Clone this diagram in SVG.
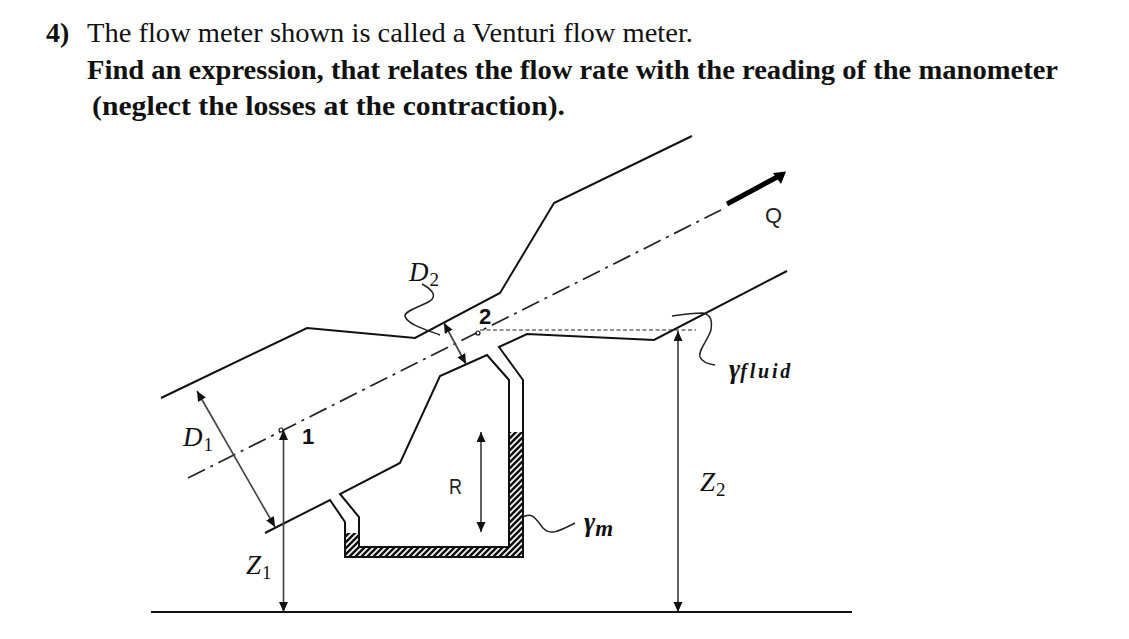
<svg xmlns="http://www.w3.org/2000/svg" width="1129" height="639" viewBox="0 0 1129 639">
<style>
.h{font-family:"Liberation Serif",serif;font-size:28px;fill:#111}
.b{font-weight:bold}
.m{font-family:"Liberation Serif",serif;font-style:italic;font-size:27px;fill:#111}
.s{font-size:19px;font-style:normal}
.g{font-family:"Liberation Sans",sans-serif;font-size:22px;fill:#222}
.n{font-family:"Liberation Sans",sans-serif;font-weight:bold;font-size:22px;fill:#111}
.p{fill:none;stroke:#111;stroke-width:2}
.t{fill:none;stroke:#222;stroke-width:1.5}
.a{fill:none;stroke:#444;stroke-width:1.7;marker-start:url(#ah);marker-end:url(#ah)}
</style>
<defs>
<marker id="ah" markerWidth="11" markerHeight="10" refX="10" refY="4.500" orient="auto-start-reverse" markerUnits="userSpaceOnUse"><path d="M0 0L10 4.500L0 9Z" fill="#111"/></marker>
<pattern id="hatch" width="6" height="6" patternUnits="userSpaceOnUse"><rect width="6" height="6" fill="#fff"/><path d="M-1 7L7 -1M-1 1L1 -1M5 7L7 5" stroke="#111" stroke-width="2.600"/></pattern>
</defs>
<g id="title">
<text class="h b" x="46" y="42">4)</text>
<text class="h" x="87" y="42" textLength="606" lengthAdjust="spacingAndGlyphs">The flow meter shown is called a Venturi flow meter.</text>
<text class="h b" x="87" y="79" textLength="971" lengthAdjust="spacingAndGlyphs">Find an expression, that relates the flow rate with the reading of the manometer</text>
<text class="h b" x="92" y="115" textLength="473" lengthAdjust="spacingAndGlyphs">(neglect the losses at the contraction).</text>
</g>
<g id="manometer-fluid">
<path fill="url(#hatch)" d="M345 533H359V547H509V432H523V557H345Z"/>
</g>
<g id="pipe">
<path class="p" d="M161 398L307 328L415 338L500 293L554 203L692 136"/>
<path class="p" d="M265 533L330 500L345 522V557H523V380L499 347L527 334L654 340L787 271"/>
<path class="p" d="M359 547V517L340 494L400 463L440 376L487 355L509 380V547H359"/>
</g>
<g id="connectors">
<path d="M188 478L721 210" fill="none" stroke="#222" stroke-width="1.700" stroke-dasharray="19 6 3 6"/>
<path d="M480 330H696" fill="none" stroke="#222" stroke-width="1.200" stroke-dasharray="4 2.500"/>
<path d="M727 204L779 176" fill="none" stroke="#000" stroke-width="5"/>
<path d="M786 171.500L773 173L781 184Z" fill="#000"/>
<path class="a" d="M283.500 430V612"/>
<path class="a" d="M678 331V612"/>
<path class="a" d="M481 432V532"/>
<path class="a" d="M444 323L466 364"/>
<path class="a" d="M197 391L275 527"/>
<path d="M151 612H852" fill="none" stroke="#111" stroke-width="2"/>
<path class="t" d="M422 284C433 290 437 296 430 301C420 307 404 311 405 316C407 325 430 331 440 335"/>
<path class="t" d="M672 316C685 314 697 313 703 313C712 315 712 322 711 330C707 342 698 350 700 357C702 362 708 364 715 365"/>
<path class="t" d="M523 517C533 511 537 521 543 528C550 535 556 533 575 523"/>
<circle cx="281" cy="430" r="2" fill="#fff" stroke="#111" stroke-width="1.200"/>
<circle cx="478" cy="333" r="2" fill="#fff" stroke="#111" stroke-width="1.200"/>
</g>
<g id="labels">
<text class="m" x="183" y="446">D<tspan class="s" dx="1" dy="5">1</tspan></text>
<text class="m" x="409" y="281">D<tspan class="s" dx="1" dy="5">2</tspan></text>
<text class="m" x="246" y="574">Z<tspan class="s" dx="1" dy="5">1</tspan></text>
<text class="m" x="700" y="491">Z<tspan class="s" dx="1" dy="5">2</tspan></text>
<text class="m b" x="584" y="531" font-size="27">γ<tspan font-size="23" dy="5">m</tspan></text>
<text class="m b" x="729" y="378">γ<tspan font-size="20" letter-spacing="2.800">fluid</tspan></text>
<text class="n" x="302" y="444">1</text>
<text class="n" x="479" y="324">2</text>
<text class="g" x="449" y="494" textLength="13" lengthAdjust="spacingAndGlyphs">R</text>
<text class="g" x="765" y="223" textLength="17" lengthAdjust="spacingAndGlyphs">Q</text>
</g>
</svg>
